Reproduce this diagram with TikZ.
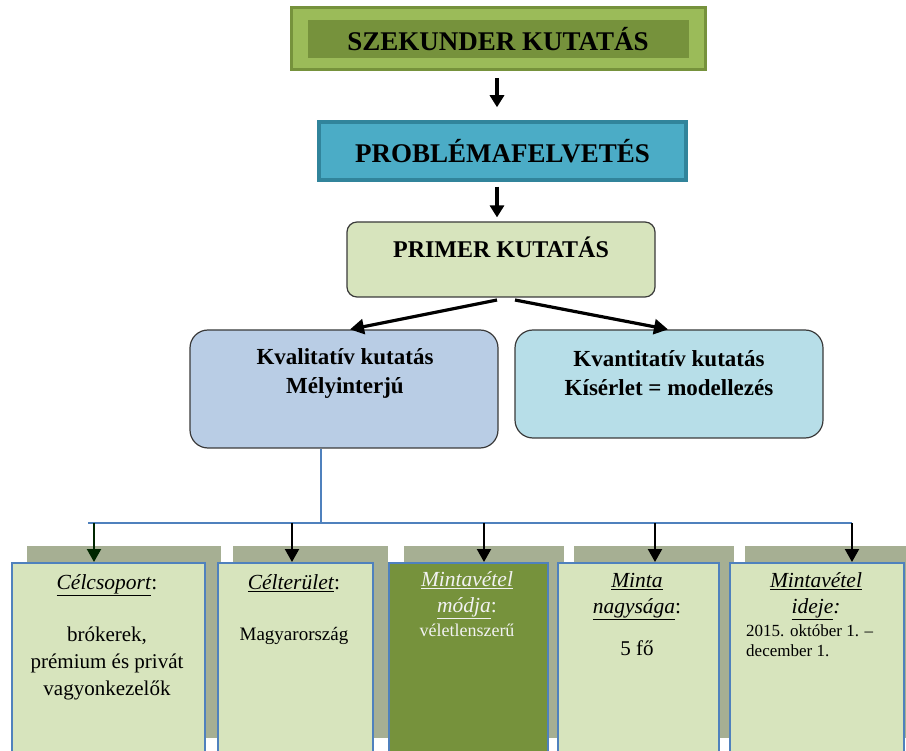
\documentclass[tikz,border=0pt]{standalone}
\usepackage{fontspec}
\setmainfont{Liberation Serif}
\usetikzlibrary{arrows.meta}
\definecolor{cOliveDark}{HTML}{76923C}
\definecolor{cOliveLight}{HTML}{9BBB59}
\definecolor{cTeal}{HTML}{4BACC6}
\definecolor{cTealDark}{HTML}{31849B}
\definecolor{cPrimer}{HTML}{D7E4BD}
\definecolor{cKval}{HTML}{B9CDE5}
\definecolor{cKvant}{HTML}{B7DEE8}
\definecolor{cShadow}{HTML}{A6AF93}
\definecolor{cBlue}{HTML}{4F81BD}
\definecolor{cBox}{HTML}{D7E4BD}
\definecolor{cEdge}{HTML}{3A3A3A}
\newcommand{\ul}[1]{\underline{\textit{#1}}}
\tikzset{
  roundbox/.style={draw=cEdge, line width=1.2pt, rounded corners=18pt, inner sep=0pt},
  toparr/.style={line width=3.4pt, -{Triangle[length=12pt,width=14pt]}},
  midarr/.style={line width=3.2pt, -{Triangle[length=14pt,width=15pt]}},
  botarr/.style={line width=2.2pt, -{Triangle[length=13pt,width=14pt]}},
  blueline/.style={draw=cBlue, line width=2pt},
  shadowbox/.style={fill=cShadow, inner sep=0pt, anchor=north west},
  frontbox/.style={draw=cBlue, line width=2.2pt, fill=cBox, inner sep=0pt, anchor=north west},
  txt/.style={inner sep=0pt, align=center, font=\fontsize{21.5}{26}\selectfont},
}
\begin{document}
\begin{tikzpicture}[x=1pt,y=-1pt]
\useasboundingbox (0,0) rectangle (906,751);
% top box
\node[draw=cOliveDark, line width=3pt, fill=cOliveLight, minimum width=414pt, minimum height=62pt, inner sep=0pt] (szek) at (498,39) {};
\node[fill=cOliveDark, minimum width=381pt, minimum height=38pt, inner sep=0pt, font=\bfseries\fontsize{27}{30}\selectfont] (szekin) at (szek.center) {SZEKUNDER KUTATÁS};
% problem box
\node[draw=cTealDark, line width=3.5pt, fill=cTeal, minimum width=367pt, minimum height=58pt, inner sep=0pt, font=\bfseries\fontsize{27}{30}\selectfont] (prob) at (502.5,151) {PROBLÉMAFELVETÉS};
% primer
\node[roundbox, rounded corners=10pt, fill=cPrimer, minimum width=308pt, minimum height=75pt] (primer) at (501,259.5) {};
\node[inner sep=0pt, font=\bfseries\fontsize{24}{26}\selectfont] (primerlbl) at (501,247) {PRIMER KUTATÁS};
% kval / kvant
\node[roundbox, fill=cKval, minimum width=308pt, minimum height=118pt] (kval) at (344,389) {};
\node[txt, font=\bfseries\fontsize{23}{29}\selectfont] (kvallbl) at (345,373) {Kvalitatív kutatás\\Mélyinterjú};
\node[roundbox, fill=cKvant, minimum width=308pt, minimum height=108pt] (kvant) at (669,384) {};
\node[txt, font=\bfseries\fontsize{23}{29}\selectfont] (kvantlbl) at (669,373) {Kvantitatív kutatás\\Kísérlet = modellezés};
% arrows
\draw[toparr] ([yshift=-7pt]szek.south -| 497,0) -- ([yshift=13pt]prob.north -| 497,0);
\draw[toparr] ([yshift=-5pt]prob.south -| 497,0) -- ([yshift=4pt]primer.north -| 497,0);
\coordinate (pl) at (497,300);
\coordinate (pr) at (515,300);
\draw[midarr] (pl) -- (kval.north -| 350,0);
\draw[midarr] (pr) -- (kvant.north -| 668,0);
% bottom boxes: shadows
\node[shadowbox, minimum width=194pt, minimum height=192pt] (s1) at (27,546) {};
\node[shadowbox, minimum width=155pt, minimum height=192pt] (s2) at (233,546) {};
\node[shadowbox, minimum width=160pt, minimum height=192pt] (s3) at (404,546) {};
\node[shadowbox, minimum width=160pt, minimum height=192pt] (s4) at (574,546) {};
\node[shadowbox, minimum width=170pt, minimum height=192pt] (s5) at (745,546) {};
% fronts
\node[frontbox, minimum width=193pt, minimum height=210pt] (b1) at (11,562) {};
\node[frontbox, minimum width=155pt, minimum height=210pt] (b2) at (217,562) {};
\node[frontbox, fill=cOliveDark, minimum width=159pt, minimum height=210pt] (b3) at (388,562) {};
\node[frontbox, minimum width=161pt, minimum height=210pt] (b4) at (557,562) {};
\node[frontbox, minimum width=174pt, minimum height=210pt] (b5) at (729,562) {};
% connectors
\coordinate (hub) at (321,523);
\coordinate (hl) at (88,523);
\coordinate (hr) at (852,523);
\draw[blueline] (kval.south -| hub) -- (hub);
\draw[blueline] (hl) -- (hr);
\coordinate (a1) at (94,523);
\coordinate (a2) at (292,523);
\coordinate (a3) at (484,523);
\coordinate (a4) at (655,523);
\coordinate (a5) at (852,523);
\draw[botarr, draw=black!85!green] (a1) -- (a1 |- b1.north);
\draw[botarr] (a2) -- (a2 |- b2.north);
\draw[botarr] (a3) -- (a3 |- b3.north);
\draw[botarr] (a4) -- (a4 |- b4.north);
\draw[botarr] (a5) -- (a5 |- b5.north);
% texts
\node[txt, anchor=north] (t1) at (107,574) {\ul{Célcsoport}:};
\node[txt, anchor=north, font=\fontsize{21}{27}\selectfont] (t1b) at (107,627) {brókerek,\\prémium és privát\\vagyonkezelők};
\node[txt, anchor=north] (t2) at (294,574) {\ul{Célterület}:};
\node[txt, anchor=north, font=\fontsize{19}{24}\selectfont] (t2b) at (294,627) {Magyarország};
\node[txt, anchor=north, text=white!95!black] (t3) at (467,571) {\ul{Mintavétel}\\\ul{módja}:};
\node[txt, anchor=north, text=white!95!black, font=\fontsize{18}{24}\selectfont] (t3b) at (467,624) {véletlenszerű};
\node[txt, anchor=north] (t4) at (637,573) {\ul{Minta}\\\ul{nagysága}:};
\node[txt, anchor=north, font=\fontsize{21}{27}\selectfont] (t4b) at (637,641) {5 fő};
\node[txt, anchor=north] (t5) at (816,572) {\ul{Mintavétel}\\\underline{\textit{ideje}}\textit{:}};
\node[txt, anchor=north west, align=left, font=\fontsize{17}{20}\selectfont] (t5b) at (746,624) {2015. október 1. –\\december 1.};
\end{tikzpicture}
\end{document}
